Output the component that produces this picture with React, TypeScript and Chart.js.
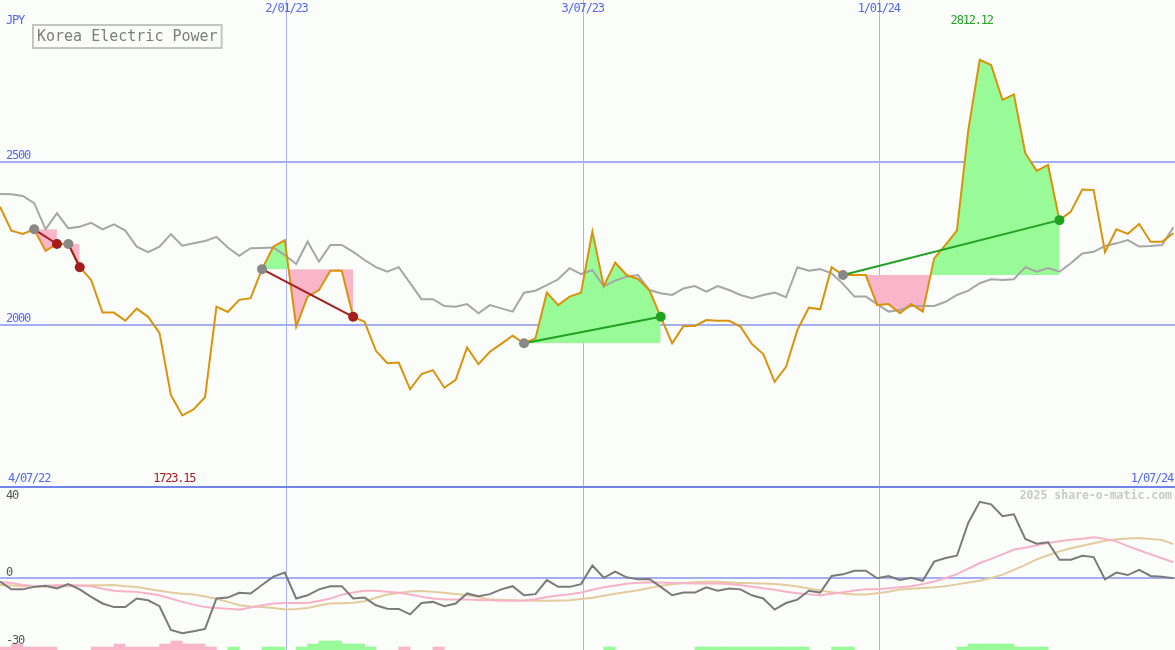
import React, { useEffect, useRef } from 'react';
import { Chart, registerables } from 'chart.js';

Chart.register(...registerables);

// ---------- data ----------
const title = 'Korea Electric Power';
const currency = 'JPY';
const watermark = '2025 share-o-matic.com';
const firstDate = '2022-07-10';
const axisStartLabel = '4/07/22';
const axisEndDate = '2024-07-01';
const axisEndLabel = '1/07/24';
const gridDates = ['2023-01-02', '2023-07-03', '2024-01-01'];
const gridLabels = ['2/01/23', '3/07/23', '1/01/24'];
const priceTicks = [2000, 2500];
const oscTicks = [40, 0, -30];

// weekly close (JPY)
const price = [
  2362, 2289, 2279, 2293, 2227, 2248, 2248, 2177, 2138, 2038,
  2038, 2013, 2050, 2025, 1976, 1786, 1723.15, 1742, 1779, 2056,
  2040, 2077, 2082, 2171, 2240, 2260, 1995, 2087, 2107, 2166,
  2166, 2025, 2010, 1921, 1883, 1885, 1803, 1850, 1862, 1808,
  1832, 1931, 1880, 1918, 1942, 1967, 1944, 1959, 2099, 2061,
  2087, 2099, 2286, 2119, 2191, 2153, 2141, 2107, 2025, 1944,
  1997, 1997, 2015, 2013, 2013, 1995, 1942, 1911, 1826, 1872,
  1985, 2053, 2048, 2177, 2153, 2153, 2153, 2061, 2064, 2036,
  2064, 2041, 2204, 2245, 2289, 2597, 2812.12, 2796, 2689, 2706,
  2526, 2472, 2490, 2321, 2347, 2415, 2413, 2223, 2293, 2279,
  2309, 2255, 2255, 2281,
];

// comparison index, scaled to price
const index = [
  2401, 2400, 2395, 2373, 2293, 2342, 2296, 2301, 2313, 2293,
  2308, 2289, 2240, 2223, 2240, 2278, 2243, 2250, 2257, 2270,
  2237, 2212, 2235, 2236, 2237, 2214, 2187, 2255, 2194, 2245,
  2245, 2224, 2199, 2177, 2163, 2177, 2128, 2079, 2079, 2058,
  2056, 2064, 2036, 2061, 2051, 2041, 2099, 2105, 2122, 2140,
  2174, 2156, 2168, 2119, 2136, 2148, 2153, 2107, 2097, 2092,
  2112, 2119, 2102, 2119, 2107, 2092, 2082, 2092, 2099, 2085,
  2177, 2166, 2171, 2158, 2126, 2087, 2087, 2064, 2041, 2046,
  2058, 2058, 2058, 2071, 2092, 2105, 2128, 2140, 2138, 2140,
  2177, 2163, 2174, 2163, 2189, 2219, 2224, 2242, 2250, 2260,
  2240, 2242, 2245, 2299,
];

// lower panel oscillator
const osc = [
  -1.6, -5.0, -5.0, -3.9, -3.4, -4.6, -2.7, -5.0, -8.3, -11.2,
  -12.8, -12.8, -9.0, -9.8, -12.4, -22.8, -24.3, -23.4, -22.4, -9.0,
  -8.6, -6.5, -6.8, -3.1, 0.6, 2.4, -9.0, -7.6, -5.0, -3.6,
  -3.6, -9.0, -8.6, -12.0, -13.5, -13.6, -16.0, -11.0, -10.5, -12.4,
  -11.2, -6.8, -8.0, -7.1, -5.0, -3.6, -7.6, -7.1, -0.9, -3.9,
  -3.9, -2.7, 5.5, 0.1, 2.8, 0.3, -0.6, -0.4, -3.9, -7.6,
  -6.4, -6.4, -4.1, -5.6, -4.6, -5.0, -7.6, -9.0, -13.9, -11.0,
  -9.5, -5.6, -6.4, 0.9, 1.6, 3.2, 3.2, -0.1, 0.9, -0.9,
  0.1, -1.2, 7.2, 8.8, 9.8, 24.3, 33.5, 32.4, 27.2, 28.0,
  17.2, 15.1, 15.7, 8.0, 8.0, 9.8, 9.2, -0.6, 2.4, 1.3,
  3.6, 0.9, 0.6, -0.1,
];
const oscFast = [
  -1.8, -2.2, -3.1, -3.6, -3.4, -3.2, -3.1, -3.3, -3.6, -4.7,
  -5.6, -5.9, -6.1, -6.8, -7.6, -9.0, -10.5, -11.7, -12.8, -13.2,
  -13.5, -13.9, -13.0, -12.0, -11.2, -11.0, -11.0, -11.0, -10.1, -9.0,
  -7.3, -6.4, -5.6, -5.6, -6.0, -6.5, -7.3, -8.2, -9.0, -9.5,
  -9.5, -9.5, -9.7, -9.8, -10.0, -10.0, -9.9, -9.3, -8.4, -7.7,
  -7.1, -6.4, -5.2, -4.1, -3.3, -2.5, -2.1, -1.9, -2.0, -2.2,
  -2.3, -2.4, -2.4, -2.4, -2.6, -3.2, -3.8, -4.5, -5.2, -6.0,
  -6.7, -7.2, -7.6, -6.9, -6.3, -5.5, -4.9, -4.9, -4.5, -4.1,
  -3.6, -2.7, -1.5, 0.0, 1.7, 4.1, 6.6, 8.4, 10.4, 12.5,
  13.3, 14.4, 15.4, 16.2, 16.8, 17.3, 17.9, 17.2, 16.1, 14.0,
  12.2, 10.4, 8.7, 6.9,
];
const oscSlow = [
  -3.1, -3.3, -3.6, -3.9, -3.8, -3.6, -3.6, -3.4, -3.2, -3.2,
  -3.1, -3.6, -4.0, -4.8, -5.6, -6.4, -6.9, -7.2, -8.1, -9.1,
  -10.5, -12.0, -12.5, -12.8, -13.2, -13.8, -13.6, -13.2, -12.1, -11.2,
  -11.1, -10.9, -10.2, -8.7, -7.3, -6.6, -5.9, -5.7, -6.1, -6.5,
  -7.0, -7.6, -8.4, -9.5, -9.6, -9.8, -9.9, -10.0, -10.0, -9.9,
  -9.8, -9.2, -8.7, -7.8, -6.9, -6.2, -5.4, -4.4, -3.4, -2.7,
  -2.2, -1.9, -1.7, -1.7, -2.0, -2.2, -2.3, -2.4, -2.6, -3.1,
  -3.7, -4.6, -5.5, -6.3, -6.8, -7.3, -7.3, -6.7, -6.0, -5.1,
  -4.7, -4.4, -4.1, -3.6, -2.8, -2.0, -1.2, 0.0, 1.5, 3.6,
  5.8, 8.2, 10.0, 11.7, 13.1, 14.2, 15.3, 16.4, 17.0, 17.4,
  17.6, 17.1, 16.7, 14.9,
];
// signal histogram: + green, - pink
const hist = [
  -1, -2, -1, -1, -1, 0, 0, 0, -1, -1,
  -2, -1, -1, -1, -2, -3, -2, -2, -1, 0,
  1, 0, 0, 1, 1, 0, 1, 2, 3, 3,
  2, 2, 1, 0, 0, -1, 0, 0, -1, 0,
  0, 0, 0, 0, 0, 0, 0, 0, 0, 0,
  0, 0, 0, 1, 0, 0, 0, 0, 0, 0,
  0, 1, 1, 1, 1, 1, 1, 1, 1, 1,
  1, 0, 0, 1, 1, 0, 0, 0, 0, 0,
  0, 0, 0, 0, 1, 2, 2, 2, 2, 1,
  1, 1, 0, 0, 0, 0, 0, 0, 0, 0,
  0, 0, 0, 0,
];
// trades (week indices)
const tradeEntry = [3, 6, 23, 46, 74];
const tradeExit = [5, 7, 31, 58, 93];

// ---------- styles ----------
const W = 1175;
const H = 650;
const BG = '#fbfdfb';
const BLUE_TEXT = '#5468e8';
const GRID_V = '#a9b3f3';
const GRID_H = '#a4aef2';
const SEP = '#7284ea';
const ORANGE = '#d9930a';
const GRAY = '#a6a6a6';
const OSC = '#7a7a7a';
const OSC_FAST = '#f8b2c8';
const OSC_SLOW = '#e3cb9e';
const FILL_GREEN = '#98fb98';
const FILL_PINK = '#f9b6ca';
const LOSS = '#a51c1c';
const GAIN = '#22a022';
const ENTRY = '#888888';
const FONT = '12px "DejaVu Sans Mono", monospace';

const DAY = 86400000;
const weeksFrom = (d: string) => (Date.parse(d) - Date.parse(firstDate)) / (7 * DAY);
const pts = (arr: number[]) => arr.map((y, j) => ({ x: j, y }));

function buildDatasets(): any[] {
  const ds: any[] = [];
  tradeEntry.forEach((e, k) => {
    const x = tradeExit[k];
    const seg = [];
    for (let j = e; j <= x; j++) seg.push({ x: j, y: price[j] });
    ds.push({
      type: 'line', data: seg, yAxisID: 'y', order: 10,
      borderColor: 'rgba(0,0,0,0)', borderWidth: 0, pointRadius: 0,
      fill: { target: { value: price[e] }, above: FILL_GREEN, below: FILL_PINK },
    });
  });
  ds.push({
    type: 'bar', yAxisID: 'yHist', order: 9,
    data: hist.map((h, j) => ({ x: j + 0.5, y: h === 0 ? null : Math.abs(h) })),
    backgroundColor: hist.map((h) => (h < 0 ? FILL_PINK : FILL_GREEN)),
    borderWidth: 0, barPercentage: 1, categoryPercentage: 1, grouped: false,
  });
  ds.push({ type: 'line', data: pts(oscSlow), yAxisID: 'yLow', order: 7, borderColor: OSC_SLOW, borderWidth: 2, pointRadius: 0, fill: false });
  ds.push({ type: 'line', data: pts(oscFast), yAxisID: 'yLow', order: 6, borderColor: OSC_FAST, borderWidth: 2, pointRadius: 0, fill: false });
  ds.push({ type: 'line', data: pts(osc), yAxisID: 'yLow', order: 5, borderColor: OSC, borderWidth: 2, pointRadius: 0, fill: false });
  ds.push({ type: 'line', data: pts(index), yAxisID: 'y', order: 4, borderColor: GRAY, borderWidth: 2, pointRadius: 0, fill: false });
  ds.push({ type: 'line', data: pts(price), yAxisID: 'y', order: 3, borderColor: ORANGE, borderWidth: 2, pointRadius: 0, fill: false });
  tradeEntry.forEach((e, k) => {
    const x = tradeExit[k];
    const c = price[x] >= price[e] ? GAIN : LOSS;
    ds.push({
      type: 'line', yAxisID: 'y', order: 1,
      data: [{ x: e, y: price[e] }, { x, y: price[x] }],
      borderColor: c, borderWidth: 2, fill: false,
      pointRadius: 5, pointBorderWidth: 0,
      pointBackgroundColor: [ENTRY, c], pointBorderColor: [ENTRY, c],
    });
  });
  return ds;
}

const decor = {
  id: 'decor',
  beforeDraw(chart: any) {
    const { ctx } = chart;
    ctx.save();
    ctx.fillStyle = BG;
    ctx.fillRect(0, 0, chart.width, chart.height);
    ctx.restore();
  },
  beforeDatasetsDraw(chart: any) {
    const { ctx, scales } = chart;
    const xs = scales.x, ys = scales.y, yl = scales.yLow;
    const hline = (y: number, color: string) => {
      ctx.strokeStyle = color; ctx.lineWidth = 2;
      ctx.beginPath(); ctx.moveTo(0, y); ctx.lineTo(W, y); ctx.stroke();
    };
    ctx.save();
    ctx.strokeStyle = GRID_V; ctx.lineWidth = 1;
    gridDates.forEach((d) => {
      const px = Math.round(xs.getPixelForValue(weeksFrom(d))) + 0.5;
      ctx.beginPath(); ctx.moveTo(px, 0); ctx.lineTo(px, H); ctx.stroke();
    });
    priceTicks.forEach((v) => hline(Math.round(ys.getPixelForValue(v)), GRID_H));
    hline(Math.round(yl.getPixelForValue(0)), GRID_H);
    hline(Math.round(yl.getPixelForValue(oscTicks[0])), SEP);
    ctx.restore();
  },
  afterDatasetsDraw(chart: any) {
    const { ctx, scales } = chart;
    const xs = scales.x, ys = scales.y, yl = scales.yLow;
    const sepY = yl.getPixelForValue(oscTicks[0]);
    ctx.save();
    ctx.font = FONT;
    (ctx as any).letterSpacing = '-1.2px';
    ctx.textBaseline = 'middle';
    // price axis
    ctx.fillStyle = BLUE_TEXT;
    ctx.textAlign = 'left';
    ctx.fillText(currency, 6, 21);
    priceTicks.forEach((v) => ctx.fillText(String(v), 6, ys.getPixelForValue(v) - 6));
    // dates
    ctx.textAlign = 'center';
    gridDates.forEach((d, i) => ctx.fillText(gridLabels[i], xs.getPixelForValue(weeksFrom(d)), 9));
    ctx.textAlign = 'left';
    ctx.fillText(axisStartLabel, 8, sepY - 8);
    ctx.textAlign = 'right';
    ctx.fillText(axisEndLabel, W - 2, sepY - 8);
    // min / max
    let jMin = 0, jMax = 0;
    price.forEach((p, j) => { if (p < price[jMin]) jMin = j; if (p > price[jMax]) jMax = j; });
    ctx.textAlign = 'center';
    ctx.fillStyle = LOSS;
    ctx.fillText(price[jMin].toFixed(2), xs.getPixelForValue(jMin) - 8, sepY - 8);
    ctx.fillStyle = GAIN;
    ctx.fillText(price[jMax].toFixed(2), xs.getPixelForValue(jMax) - 8, 21);
    // oscillator axis
    ctx.fillStyle = '#555555';
    ctx.textAlign = 'left';
    oscTicks.forEach((v) => {
      const py = Math.max(yl.getPixelForValue(v) - 5, sepY + 9);
      ctx.fillText(String(v), 6, py);
    });
    // watermark
    ctx.font = 'bold 11.5px "DejaVu Sans Mono", monospace';
    (ctx as any).letterSpacing = '0px';
    ctx.fillStyle = '#c9c9c9';
    ctx.textAlign = 'right';
    ctx.fillText(watermark, W - 3, sepY + 9);
    // title box
    ctx.font = '15px "DejaVu Sans Mono", monospace';
    ctx.textAlign = 'left';
    const tw = ctx.measureText(title).width;
    ctx.strokeStyle = '#c4c4c4';
    ctx.lineWidth = 2;
    ctx.strokeRect(33, 25, tw + 8, 23);
    ctx.fillStyle = '#7c7c7c';
    ctx.fillText(title, 37, 37);
    ctx.restore();
  },
};

export default function App() {
  const ref = useRef<HTMLCanvasElement>(null);
  useEffect(() => {
    const canvas = ref.current;
    if (!canvas) return;
    const chart = new Chart(canvas, {
      type: 'line',
      data: { datasets: buildDatasets() },
      options: {
        responsive: false,
        animation: false,
        devicePixelRatio: 1,
        events: [],
        layout: { padding: 0, autoPadding: false },
        plugins: { legend: { display: false }, tooltip: { enabled: false } },
        elements: { line: { tension: 0 } },
        scales: {
          x: { type: 'linear', display: false, offset: false, min: 0, max: weeksFrom(axisEndDate) },
          y: { type: 'linear', display: false, min: 1005, max: 2995 },
          yLow: { type: 'linear', display: false, min: -31.65, max: 254.07 },
          yHist: { type: 'linear', display: false, min: 0, max: H / 3 },
        },
      },
      plugins: [decor],
    } as any);
    return () => chart.destroy();
  }, []);
  return (
    <div style={{ position: 'fixed', left: 0, top: 0, width: W, height: H }}>
      <canvas ref={ref} width={W} height={H} style={{ display: 'block', width: W, height: H }} />
    </div>
  );
}
